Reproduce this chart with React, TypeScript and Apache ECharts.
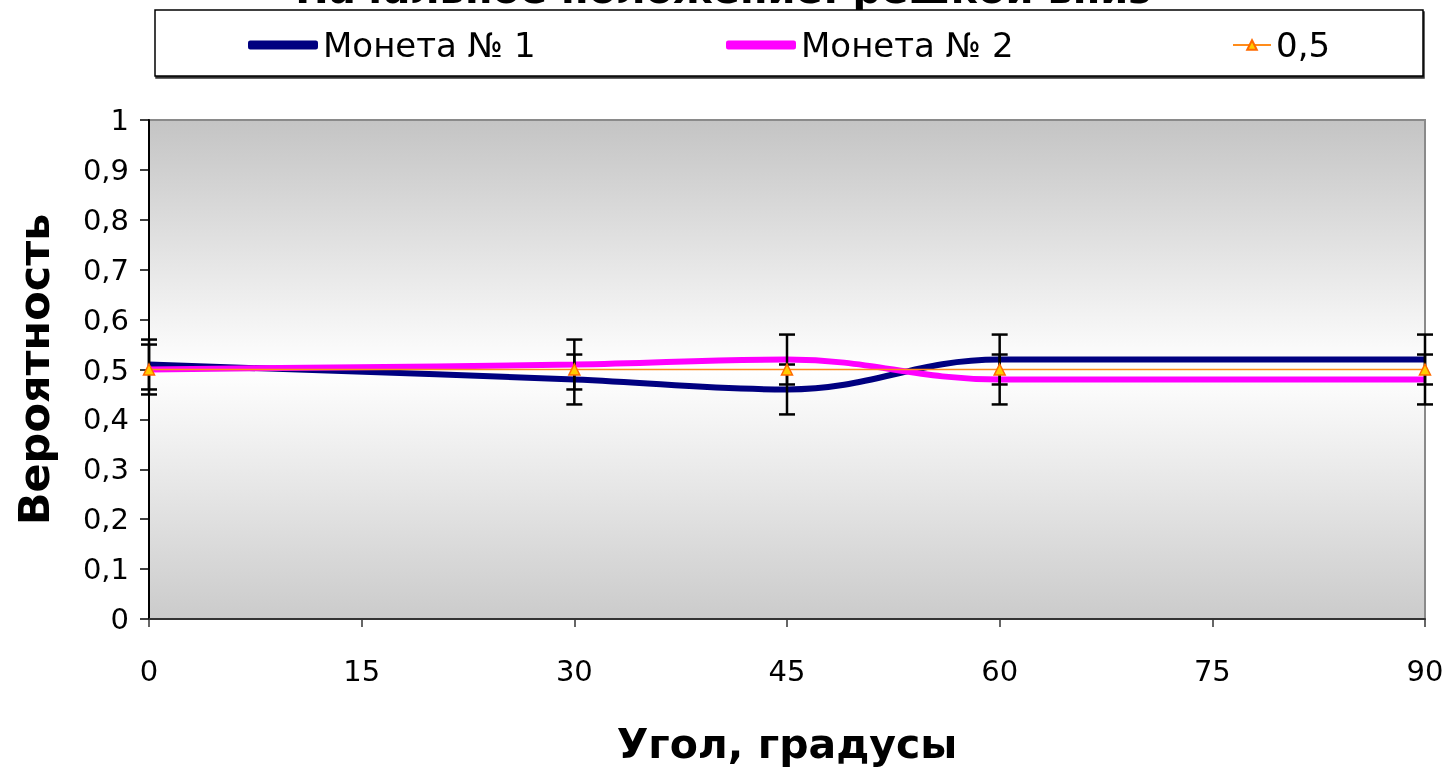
import React, { useEffect, useRef } from "react";
import * as echarts from "echarts";

const angles = [0, 30, 45, 60, 90];
const coin1 = [0.51, 0.48, 0.46, 0.52, 0.52];
const coin2 = [0.5, 0.51, 0.52, 0.48, 0.48];
const half = [0.5, 0.5, 0.5, 0.5, 0.5];
const errorSize = 0.05;
const yTickLabels = ["0", "0,1", "0,2", "0,3", "0,4", "0,5", "0,6", "0,7", "0,8", "0,9", "1"];
const seriesNames = ["Монета № 1", "Монета № 2", "0,5"];
const titleText = "Начальное положение: решкой вниз";
const xName = "Угол, градусы";
const yName = "Вероятность";

const FONT = "DejaVu Sans";

function errorData(vals: number[]) {
  return angles.map((a, i) => [a, vals[i] - errorSize, vals[i] + errorSize]);
}

function renderErr(params: any, api: any) {
  const x = api.value(0);
  const lo = api.coord([x, api.value(1)]);
  const hi = api.coord([x, api.value(2)]);
  const w = 8;
  const style = { stroke: "#000", lineWidth: 2.5 };
  return {
    type: "group",
    children: [
      { type: "line", shape: { x1: lo[0], y1: lo[1], x2: hi[0], y2: hi[1] }, style },
      { type: "line", shape: { x1: lo[0] - w, y1: lo[1], x2: lo[0] + w, y2: lo[1] }, style },
      { type: "line", shape: { x1: hi[0] - w, y1: hi[1], x2: hi[0] + w, y2: hi[1] }, style },
    ],
  };
}

export default function App() {
  const ref = useRef<HTMLDivElement>(null);
  useEffect(() => {
    if (!ref.current) return;
    const chart = echarts.init(ref.current, undefined, { renderer: "svg" });
    const legendText = { fontFamily: FONT, fontSize: 34, color: "#000" };
    chart.setOption({
      animation: false,
      textStyle: { fontFamily: FONT },
      graphic: [
        {
          type: "text",
          left: "center",
          top: -31,
          style: {
            text: titleText,
            fontFamily: FONT,
            fontWeight: "bold",
            fontSize: 40,
            fill: "#000",
          },
        },
        {
          type: "rect",
          x: 155,
          y: 10,
          z: 0,
          shape: { width: 1268, height: 66 },
          style: { fill: "#fff", stroke: "#000", lineWidth: 1.5, shadowColor: "rgba(0,0,0,0.8)", shadowOffsetX: 1, shadowOffsetY: 2 },
        },
      ],
      legend: [
        {
          left: 248, top: 28, padding: 0, itemWidth: 70, itemHeight: 9, icon: "roundRect",
          data: [seriesNames[0]], textStyle: legendText,
        },
        {
          left: 726, top: 28, padding: 0, itemWidth: 70, itemHeight: 9, icon: "roundRect",
          data: [seriesNames[1]], textStyle: legendText,
        },
        {
          left: 1232, top: 28, padding: 0, itemWidth: 38, itemHeight: 12,
          data: [seriesNames[2]], textStyle: legendText,
        },
      ],
      grid: {
        left: 149, right: 22, top: 120, bottom: 149,
        show: true,
        borderColor: "#8a8a8a",
        borderWidth: 2,
        backgroundColor: new echarts.graphic.LinearGradient(0, 0, 0, 1, [
          { offset: 0, color: "#c4c4c4" },
          { offset: 0.5, color: "#ffffff" },
          { offset: 1, color: "#cbcbcb" },
        ]),
      },
      xAxis: {
        type: "value",
        min: 0, max: 90, interval: 15,
        name: xName,
        nameLocation: "middle",
        nameGap: 104,
        nameTextStyle: { fontFamily: FONT, fontWeight: "bold", fontSize: 41, color: "#000" },
        axisLine: { lineStyle: { color: "#333", width: 2 } },
        axisTick: { show: true, length: 8, lineStyle: { color: "#333", width: 1.5 } },
        axisLabel: { margin: 37, fontSize: 29, color: "#000", fontFamily: FONT },
        splitLine: { show: false },
      },
      yAxis: {
        type: "value",
        min: 0, max: 1, interval: 0.1,
        name: yName,
        nameLocation: "middle",
        nameGap: 94,
        nameTextStyle: { fontFamily: FONT, fontWeight: "bold", fontSize: 43, color: "#000" },
        axisLine: { show: true, lineStyle: { color: "#000", width: 2 } },
        axisTick: { show: true, length: 9, lineStyle: { color: "#000", width: 1.5 } },
        axisLabel: {
          margin: 20, fontSize: 29, color: "#000", fontFamily: FONT,
          formatter: (v: number) => yTickLabels[Math.round(v * 10)],
        },
        splitLine: { show: false },
      },
      series: [
        {
          name: seriesNames[0], type: "line", smooth: 0.4, showSymbol: false, symbol: "none",
          data: angles.map((a, i) => [a, coin1[i]]),
          itemStyle: { color: "#000080" },
          lineStyle: { color: "#000080", width: 6 }, z: 2,
        },
        {
          name: seriesNames[1], type: "line", smooth: 0.4, showSymbol: false, symbol: "none",
          data: angles.map((a, i) => [a, coin2[i]]),
          itemStyle: { color: "#ff00ff" },
          lineStyle: { color: "#ff00ff", width: 6 }, z: 2,
        },
        {
          type: "custom", name: "err1", renderItem: renderErr, data: errorData(coin1), z: 3,
          encode: { x: 0, y: [1, 2] }, silent: true,
        },
        {
          type: "custom", name: "err2", renderItem: renderErr, data: errorData(coin2), z: 3,
          encode: { x: 0, y: [1, 2] }, silent: true,
        },
        {
          name: seriesNames[2], type: "line", symbol: "triangle", symbolSize: 11,
          data: angles.map((a, i) => [a, half[i]]),
          itemStyle: { color: "#ffcc00", borderColor: "#ff6a00", borderWidth: 1.5 },
          lineStyle: { color: "#ff8c1a", width: 1.5 }, z: 4,
        },
      ],
    });
    return () => chart.dispose();
  }, []);
  return <div ref={ref} style={{ position: "fixed", left: 0, top: 0, width: 1447, height: 769 }} />;
}
